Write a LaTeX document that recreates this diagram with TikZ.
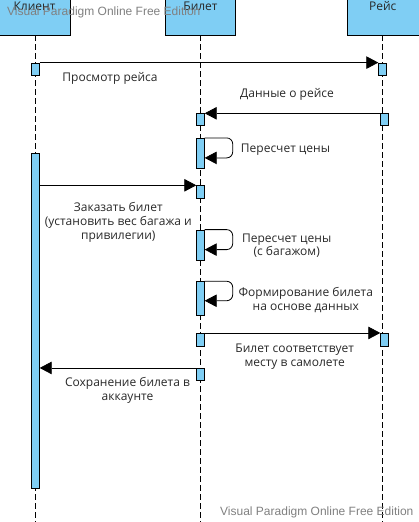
\documentclass[tikz,border=0pt]{standalone}
\usepackage{fontspec}
\setmainfont{Open Sans}
\newfontfamily\wmfont{Liberation Sans}
\usetikzlibrary{arrows.meta}
\definecolor{lblue}{RGB}{127,206,244}
\definecolor{wmgray}{RGB}{128,128,128}
\definecolor{txt}{RGB}{40,40,40}
\begin{document}
\begin{tikzpicture}[x=1pt,y=-1pt,
  head/.style={draw=black,line width=0.8pt,fill=lblue,inner sep=0pt,minimum height=36pt},
  htext/.style={anchor=base,inner sep=0pt,font=\fontsize{12}{14}\selectfont,text=txt},
  bar/.style={draw=black,line width=0.8pt,fill=lblue,inner sep=0pt,minimum width=7.6pt},
  life/.style={line width=0.8pt,dash pattern=on 6pt off 3pt},
  msg/.style={line width=0.8pt,-{Triangle[length=12pt,width=12.5pt]}},
  self/.style={line width=0.8pt,rounded corners=6pt,-{Triangle[length=12pt,width=12.5pt]}},
  lbl/.style={inner sep=0pt,align=center,font=\fontsize{12}{13.8}\selectfont,text=txt},
  wm/.style={inner sep=0pt,font=\wmfont\fontsize{12}{14}\selectfont,text=wmgray}
]
\useasboundingbox (0,0) rectangle (418,522);
% lifelines
\coordinate (ek) at (35,523);
\coordinate (eb) at (200.3,523);
\coordinate (er) at (382.3,523);
\node[head,minimum width=71.3pt] (hk) at (34.65,17) {};
\node[head,minimum width=69.3pt] (hb) at (200.35,17) {};
\node[head,minimum width=71.3pt] (hr) at (383.35,17) {};
\draw[life] (hk.south -| ek) -- (ek);
\draw[life] (hb.south -| eb) -- (eb);
\draw[life] (hr.south -| er) -- (er);
\node[htext] (tk) at (34.5,10) {Клиент};
\node[htext] (tb) at (200.5,10) {Билет};
\node[htext] (tr) at (382.7,10) {Рейс};
% activation bars
\node[bar,minimum height=12pt] (ka) at (35.5,69) {};
\node[bar,minimum height=12pt] (ra) at (382.5,69) {};
\node[bar,minimum height=11.6pt] (bb) at (200.5,119.5) {};
\node[bar,minimum height=11.6pt] (rb) at (384.5,119.5) {};
\node[bar,minimum height=30pt] (s1) at (200.5,153.3) {};
\node[bar,minimum height=335pt] (kl) at (35.5,320.8) {};
\node[bar,minimum height=12.6pt] (bc) at (200.5,192) {};
\node[bar,minimum height=30pt] (s2) at (200.5,245) {};
\node[bar,minimum height=33.3pt] (s3) at (200.5,298.3) {};
\node[bar,minimum height=12.7pt] (bd) at (200.5,339.7) {};
\node[bar,minimum height=12.7pt] (rd) at (384.5,339.7) {};
\node[bar,minimum height=11.7pt] (be) at (200.5,374.2) {};
% messages
\draw[msg] (ka.north east) -- (ra.north west);
\draw[msg] (rb.north west) -- (bb.north east);
\draw[self] (s1.north east) -- ++(28,0) -- ++(0,20) -- ++(-28,0);
\draw[msg] (kl.east |- bc.north) -- (bc.north west);
\draw[self] (s2.north east) -- ++(28,0) -- ++(0,20) -- ++(-28,0);
\draw[self] (s3.north east) -- ++(28,0) -- ++(0,19.5) -- ++(-28,0);
\draw[msg] (bd.north east) -- (rd.north west);
\draw[msg] (be.north west) -- (kl.east |- be.north);
% labels
\node[lbl] (l1) at (110,78.3) {Просмотр рейса};
\node[lbl] (l2) at (287,94.7) {Данные о рейсе};
\node[lbl] (l3) at (285.5,149.3) {Пересчет цены};
\node[lbl] (l4) at (118.3,222.5) {Заказать билет\\(установить вес багажа и\\привилегии)};
\node[lbl] (l5) at (286.7,245.7) {Пересчет цены\\(с багажом)};
\node[lbl] (l6) at (305.8,300.3) {Формирование билета\\на основе данных};
\node[lbl] (l7) at (294.7,356.3) {Билет соответствует\\месту в самолете};
\node[lbl] (l8) at (127.5,390.3) {Сохранение билета в\\аккаунте};
% watermarks
\node[wm,anchor=west] (w1) at (7,12.5) {Visual Paradigm Online Free Edition};
\node[wm,anchor=west] (w2) at (220,512.5) {Visual Paradigm Online Free Edition};
\end{tikzpicture}
\end{document}
